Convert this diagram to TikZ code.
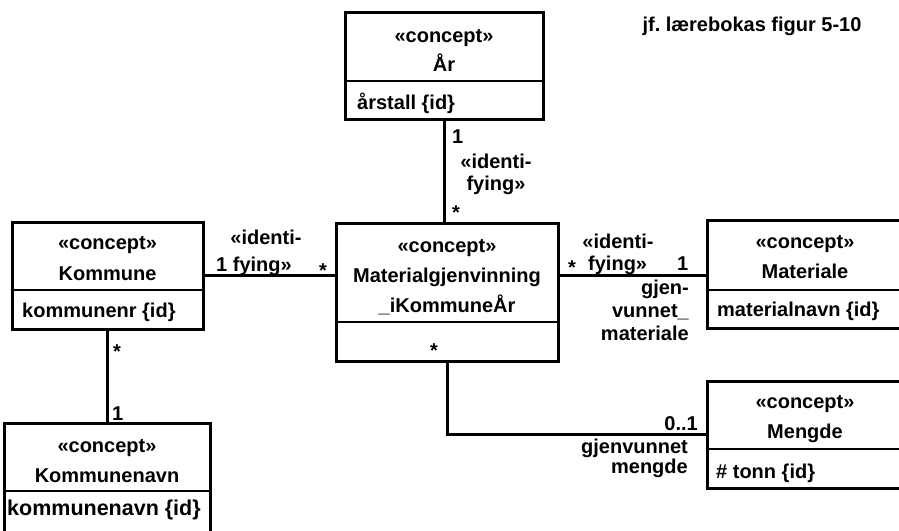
\documentclass[tikz,border=0pt]{standalone}
\usepackage{fontspec}
\setmainfont{Liberation Sans}
\begin{document}
\begin{tikzpicture}[x=1pt, y=-1pt, font=\fontsize{20}{24}\selectfont\bfseries,
    cls/.style={draw, line width=3pt, inner sep=0pt},
    sep/.style={line width=1.2pt},
    assoc/.style={line width=3pt},
    txt/.style={anchor=base, inner sep=0pt},
    attr/.style={anchor=base west, inner sep=0pt},
    rlbl/.style={anchor=base east, inner sep=0pt}]
  \useasboundingbox (0,0) rectangle (899,530);
  \node[txt] (title) at (752,31) {jf.\ lærebokas figur 5-10};
  % class boxes
  \node[cls, minimum width=198pt, minimum height=107pt] (ar) at (444,65.5) {};
  \node[cls, minimum width=222pt, minimum height=138pt] (mat) at (447,292) {};
  \node[cls, minimum width=191pt, minimum height=107pt] (kom) at (107.5,275.5) {};
  \node[cls, minimum width=206pt, minimum height=137pt] (kn) at (107,491.5) {};
  \node[cls, minimum width=196pt, minimum height=108pt] (mtl) at (805,274) {};
  \node[cls, minimum width=196pt, minimum height=107pt] (meng) at (805,434.5) {};
  % compartment lines
  \draw[sep] (ar.west |- 0,81) -- (ar.east |- 0,81);
  \draw[sep] (mat.west |- 0,322) -- (mat.east |- 0,322);
  \draw[sep] (kom.west |- 0,290) -- (kom.east |- 0,290);
  \draw[sep] (kn.west |- 0,491) -- (kn.east |- 0,491);
  \draw[sep] (mtl.west |- 0,290) -- (mtl.east |- 0,290);
  \draw[sep] (meng.west |- 0,449) -- (meng.east |- 0,449);
  % texts in the boxes
  \node[txt] (arst) at (444,42) {«concept»};
  \node[txt] (arnm) at (444,71) {År};
  \node[attr] (arat) at (357,109) {årstall {\{}id{\}}};
  \node[txt] (matst) at (447,252) {«concept»};
  \node[txt] (matnm) at (447,282) {Materialgjenvinning};
  \node[txt] (matnm2) at (447,312) {\_iKommuneÅr};
  \node[txt] (matm) at (434,357) {*};
  \node[txt] (komst) at (107.5,249) {«concept»};
  \node[txt] (komnm) at (107.5,280) {Kommune};
  \node[attr] (komat) at (22,317) {kommunenr {\{}id{\}}};
  \node[txt] (knst) at (107,452) {«concept»};
  \node[txt] (knnm) at (107,482) {Kommunenavn};
  \node[attr, font=\fontsize{21.5}{24}\selectfont\bfseries] (knat) at (7,515) {kommunenavn {\{}id{\}}};
  \node[txt] (mtlst) at (805,248) {«concept»};
  \node[txt] (mtlnm) at (805,278) {Materiale};
  \node[attr] (mtlat) at (717,316) {materialnavn {\{}id{\}}};
  \node[txt] (mengst) at (805,408) {«concept»};
  \node[txt] (mengnm) at (805,438) {Mengde};
  \node[attr] (mengat) at (716,478) {\# tonn {\{}id{\}}};
  % associations
  \draw[assoc] (ar.south) -- (ar.south |- mat.north);
  \draw[assoc] (kom.east) -- (kom.east -| mat.west);
  \draw[assoc] (kom.east -| mat.east) -- (kom.east -| mtl.west);
  \draw[assoc] (kom.south) -- (kom.south |- kn.north);
  \draw[assoc] (mat.south) |- (meng.west);
  % association ends
  \node[attr] (m1) at (452,143) {1};
  \node[txt] (id1) at (496,168) {«identi-};
  \node[txt] (fy1) at (496,190) {fying»};
  \node[attr] (m2) at (452,219) {*};
  \node[txt] (id2) at (266,244) {«identi-};
  \node[attr] (fy2) at (216,271) {1 fying»};
  \node[attr] (m4) at (319,277) {*};
  \node[txt] (id3) at (618,248) {«identi-};
  \node[attr] (m5) at (568,274) {*};
  \node[attr] (fy3) at (588,270) {fying»};
  \node[attr] (m6) at (677,270) {1};
  \node[rlbl] (gm1) at (689,294) {gjen-};
  \node[rlbl] (gm2) at (689,317) {vunnet\_};
  \node[rlbl] (gm3) at (689,340) {materiale};
  \node[rlbl] (m7) at (698,430) {0..1};
  \node[rlbl] (gv1) at (688,453) {gjenvunnet};
  \node[rlbl] (gv2) at (688,473) {mengde};
  \node[attr] (m8) at (113,358) {*};
  \node[attr] (m9) at (112,420) {1};
\end{tikzpicture}
\end{document}
